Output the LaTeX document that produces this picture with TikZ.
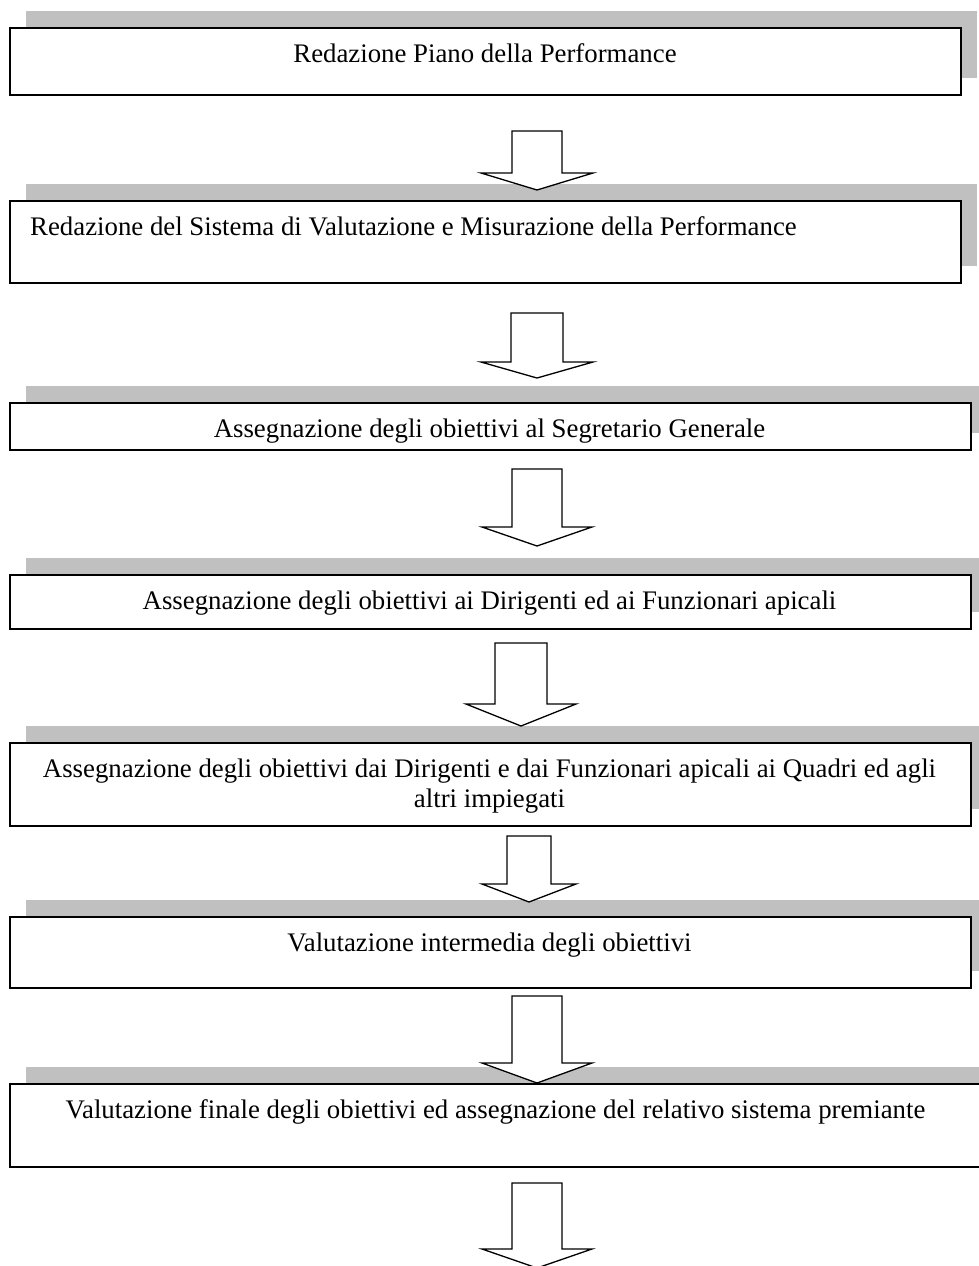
\documentclass[tikz,border=0pt]{standalone}
\usepackage{fontspec}
\setmainfont{Liberation Serif}
\begin{document}
\begin{tikzpicture}[x=1pt,y=-1pt,
  shad/.style={fill=shadowgray,draw=none},
  boxst/.style={draw=black,line width=1.7pt,fill=white,rectangle,inner sep=0pt,anchor=north west},
  txt/.style={inner sep=0pt,font=\fontsize{26.8}{31}\selectfont},
  arr/.style={draw=black,line width=1.3pt,fill=white,line join=miter}]
\definecolor{shadowgray}{RGB}{192,192,192}
\useasboundingbox (0,0) rectangle (979,1266);
\clip (0,0) rectangle (979,1266);
% box macro: name, x1, y1, x2, y2
\newcommand\pbox[5]{%
  \fill[shad] ({#2+17},{#3-16}) rectangle ({#4+17},{#5-16});
  \node[boxst,minimum width={(#4-#2)*1pt},minimum height={(#5-#3)*1pt}] (#1) at (#2,#3) {};}
% arrow macro: name, cx, shaft top, head base, tip, shaft half, head half
\newcommand\barrow[7]{%
  \coordinate (#1) at (#2,#5);
  \draw[arr] ({#2-#6},#3) -- ({#2+#6},#3) -- ({#2+#6},#4) -- ({#2+#7},#4) -- (#1) -- ({#2-#7},#4) -- ({#2-#6},#4) -- cycle;}

\pbox{b1}{9}{27}{960}{94}
\node[txt,anchor=base] (t1) at (485,62) {Redazione Piano della Performance};

\pbox{b2}{9}{200}{960}{282}
\node[txt,anchor=base west] (t2) at (30,235) {Redazione del Sistema di Valutazione e Misurazione della Performance};

\pbox{b3}{9}{402}{970}{449}
\node[txt,anchor=base] (t3) at (489.5,437) {Assegnazione degli obiettivi al Segretario Generale};

\pbox{b4}{9}{574}{970}{628}
\node[txt,anchor=base] (t4) at (489.5,609) {Assegnazione degli obiettivi ai Dirigenti ed ai Funzionari apicali};

\pbox{b5}{9}{742}{970}{825}
\node[txt,anchor=base] (t5a) at (489.5,777) {Assegnazione degli obiettivi dai Dirigenti e dai Funzionari apicali ai Quadri ed agli};
\node[txt,anchor=base] (t5b) at (489.5,807) {altri impiegati};

\pbox{b6}{9}{916}{970}{987}
\node[txt,anchor=base] (t6) at (489.5,951) {Valutazione intermedia degli obiettivi};

\pbox{b7}{9}{1083}{982}{1166}
\node[txt,anchor=base] (t7) at (495.5,1118) {Valutazione finale degli obiettivi ed assegnazione del relativo sistema premiante};

\barrow{a1}{537}{131}{173}{190}{25}{56}
\barrow{a2}{537}{313}{362}{378}{26}{56}
\barrow{a3}{537}{469}{527}{546}{25}{55}
\barrow{a4}{521}{643}{704}{726}{26}{55}
\barrow{a5}{529}{836}{884}{902}{22}{47}
\barrow{a6}{537}{996}{1063}{1083}{25}{55}
\barrow{a7}{537}{1183}{1249}{1268}{25}{55}
\end{tikzpicture}
\end{document}
